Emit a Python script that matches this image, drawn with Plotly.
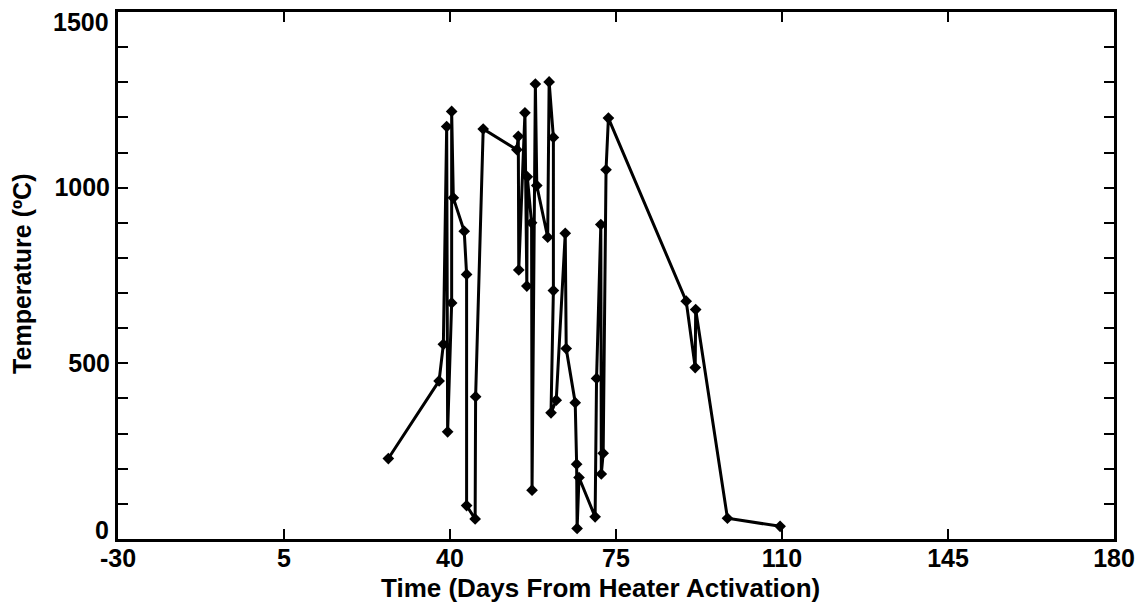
import plotly.graph_objects as go

days = [27.0, 37.7, 38.6, 39.3, 39.5, 40.35, 40.35, 40.7, 43.0, 43.5, 43.5, 45.3, 45.4, 47.0,
        54.1, 54.4, 54.5, 55.8, 56.2, 56.3, 57.2, 57.3, 58.0, 58.3, 60.6, 60.9, 61.8, 61.8,
        61.3, 62.4, 64.3, 64.5, 66.4, 66.7, 66.8, 67.2, 70.6, 70.9, 71.8, 71.9, 72.3, 72.9,
        73.4, 89.8, 91.7, 91.8, 98.5, 109.6]
temps = [229, 450, 554, 1174, 305, 672, 1217, 971, 876, 753, 95, 57, 405, 1167,
         1108, 1146, 766, 1213, 720, 1031, 900, 139, 1295, 1006, 859, 1301, 1143, 707,
         359, 395, 870, 542, 388, 213, 30, 175, 63, 457, 895, 185, 244, 1051,
         1198, 677, 488, 653, 59, 36]

x_ticks = [-30, 5, 40, 75, 110, 145, 180]
y_ticks = [0, 500, 1000, 1500]
x_title = "Time (Days From Heater Activation)"
y_title = "Temperature (ºC)"

FONT = "Liberation Sans, Arial, sans-serif"
TICK_SIZE = 25

fig = go.Figure()
fig.add_trace(go.Scatter(
    x=days, y=temps, mode="lines+markers",
    line=dict(color="black", width=3),
    marker=dict(symbol="diamond", size=9, color="black"),
    cliponaxis=False,
    showlegend=False,
))

fig.update_layout(
    width=1144, height=609,
    margin=dict(l=118, r=30, t=12, b=70),
    paper_bgcolor="white", plot_bgcolor="white",
    font=dict(family=FONT, color="black", size=TICK_SIZE),
)
fig.update_xaxes(
    range=[-30, 180], tickmode="array", tickvals=x_ticks,
    ticktext=[f"<b>{v}</b>" for v in x_ticks],
    ticks="inside", ticklen=10, tickwidth=2, tickcolor="black",
    showline=True, linewidth=3, linecolor="black", mirror="allticks",
    showgrid=False, zeroline=False, automargin=False,
    tickfont=dict(size=TICK_SIZE), ticklabelstandoff=-5,
)
# middle y labels on ticks; end labels are drawn inset like the original
mid_y = [v for v in y_ticks if v not in (y_ticks[0], y_ticks[-1])]
fig.update_yaxes(
    range=[0, 1500], tickmode="array", tickvals=y_ticks,
    ticktext=[f"<b>{v}</b>" if v in mid_y else "" for v in y_ticks],
    ticks="inside", ticklen=10, tickwidth=2, tickcolor="black",
    minor=dict(dtick=100, ticks="inside", ticklen=10, tickwidth=2, tickcolor="black", showgrid=False),
    showline=True, linewidth=3, linecolor="black", mirror="allticks",
    showgrid=False, zeroline=False, automargin=False,
    tickfont=dict(size=TICK_SIZE),
)
for v, shift in ((y_ticks[0], 9), (y_ticks[-1], -10)):
    fig.add_annotation(
        x=0, xref="paper", xanchor="right", xshift=-7,
        y=v, yref="y", yanchor="middle", yshift=shift,
        text=f"<b>{v}</b>", showarrow=False, font=dict(size=TICK_SIZE),
    )

fig.add_annotation(
    x=0.484, xref="paper", xanchor="center",
    y=-0.0925, yref="paper", yanchor="middle",
    text=f"<b>{x_title}</b>", showarrow=False, font=dict(size=26),
)
fig.add_annotation(
    x=-0.0964, xref="paper", xanchor="center",
    y=0.503, yref="paper", yanchor="middle",
    text=f"<b>{y_title}</b>", textangle=-90, showarrow=False, font=dict(size=25),
)

fig.write_html("out.html")
